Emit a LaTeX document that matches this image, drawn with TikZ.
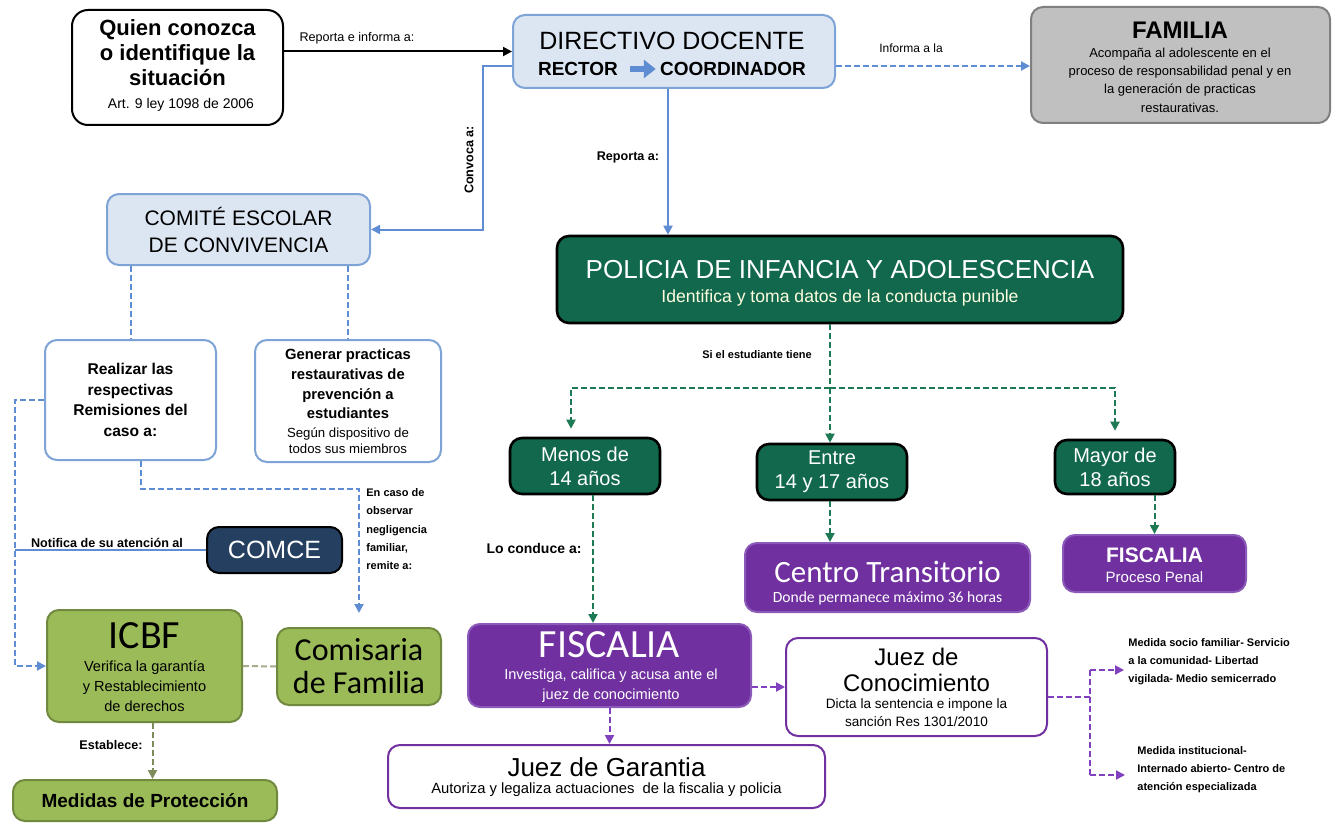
\documentclass[tikz,border=0pt]{standalone}
\usepackage{fontspec}
\setmainfont{Liberation Sans}
\newfontfamily\calib{Carlito}
\usetikzlibrary{arrows.meta, positioning, calc}

\definecolor{boxblue}{HTML}{DCE6F2}
\definecolor{borderblue}{HTML}{7EA3D6}
\definecolor{lineblue}{HTML}{5F8DD3}
\definecolor{polgreen}{HTML}{11684C}
\definecolor{dashgreen}{HTML}{1E7A55}
\definecolor{olive}{HTML}{9BBB59}
\definecolor{olivedark}{HTML}{71893F}
\definecolor{olivedash}{HTML}{7D8C5A}
\definecolor{navy}{HTML}{243F60}
\definecolor{purp}{HTML}{7030A0}
\definecolor{purpedge}{HTML}{8B5AB8}
\definecolor{purpdash}{HTML}{8040C0}
\definecolor{famgray}{HTML}{C0C0C0}
\definecolor{famedge}{HTML}{808080}

\begin{document}
\begin{tikzpicture}[x=0.5pt, y=-0.5pt,
    box/.style={draw, rounded corners=6pt, line width=1pt, inner sep=0pt},
    bluebox/.style={box, draw=borderblue, fill=boxblue},
    whitebox/.style={box, draw=borderblue, fill=white},
    darkbox/.style={box, draw=black, fill=polgreen, line width=1.3pt},
    olivebox/.style={box, draw=olivedark, fill=olive},
    purpbox/.style={box, draw=purpedge, fill=purp},
    judgebox/.style={box, draw=purp, fill=white},
    txt/.style={align=center, inner sep=0pt},
    lbl/.style={font=\fontsize{6.3}{8}\selectfont\bfseries, inner sep=1pt},
    tip/.style={-{Triangle[length=4.5pt, width=4.5pt]}},
    dsh/.style={line width=1pt, dash pattern=on 3pt off 1.5pt},
    solid line/.style={line width=1pt}
]
\useasboundingbox (0,0) rectangle (1333,824);
\fill[white] (0,0) rectangle (1333,824);

% Top row
\node[box, draw=black, fill=white, rounded corners=8pt, minimum width=105.5pt, minimum height=57.5pt] (quien) at (177.5,67.5) {};
\node[txt, font=\fontsize{11}{12.5}\selectfont\bfseries] (quient) at (177.5,53) {Quien conozca\\o identifique la\\situación};
\node[txt, font=\fontsize{7}{8}\selectfont] (quiens) at (181,105) {Art. 9 ley 1098 de 2006};

\node[bluebox, minimum width=161pt, minimum height=36.5pt] (dir) at (674,51.5) {};
\node[txt, font=\fontsize{12.5}{14}\selectfont] (dirt) at (672,41) {DIRECTIVO DOCENTE};
\node[txt, font=\fontsize{9.5}{11}\selectfont\bfseries] (rector) at (578,69) {RECTOR};
\node[txt, font=\fontsize{9.5}{11}\selectfont\bfseries] (coord) at (733,69) {COORDINADOR};
\draw[lineblue, line width=3pt, -{Triangle[length=6pt, width=9pt]}, shorten <=6pt, shorten >=2pt] (rector.east) -- (coord.west);

\node[box, draw=famedge, fill=famgray, minimum width=149.5pt, minimum height=58pt] (fam) at (1180.5,65) {};
\node[txt, font=\fontsize{12}{14}\selectfont\bfseries] (famt) at (1180,30) {FAMILIA};
\node[txt, font=\fontsize{6.5}{9.2}\selectfont] (fams) at (1180,80) {Acompaña al adolescente en el\\proceso de responsabilidad penal y en\\la generación de practicas\\restaurativas.};

% Comite branch
\node[bluebox, txt, font=\fontsize{10.5}{13.5}\selectfont, minimum width=131.5pt, minimum height=35.5pt] (comite) at (238.5,229.5) {COMITÉ ESCOLAR\\DE CONVIVENCIA};
\node[whitebox, txt, font=\fontsize{7.8}{10.2}\selectfont\bfseries, minimum width=85.5pt, minimum height=60pt] (realiz) at (130.5,400) {Realizar las\\respectivas\\Remisiones del\\caso a:};
\node[whitebox, minimum width=93pt, minimum height=61pt] (gener) at (348,401) {};
\node[txt, font=\fontsize{7.4}{9.8}\selectfont\bfseries] (generb) at (348,384) {Generar practicas\\restaurativas de\\prevención a\\estudiantes};
\node[txt, font=\fontsize{6.6}{7.8}\selectfont] (geners) at (348,441) {Según dispositivo de\\todos sus miembros};

\node[box, draw=black, fill=navy, text=white, font=\fontsize{12.5}{14}\selectfont, minimum width=67.5pt, minimum height=23pt] (comce) at (274.5,550) {COMCE};

\node[olivebox, minimum width=97.5pt, minimum height=56pt] (icbf) at (144.5,666) {};
\node[txt, font=\calib\fontsize{20}{22}\selectfont] (icbft) at (144.5,636) {ICBF};
\node[txt, font=\fontsize{7.3}{10}\selectfont] (icbfs) at (144.5,686) {Verifica la garantía\\y Restablecimiento\\de derechos};
\node[olivebox, txt, font=\calib\fontsize{16}{16.5}\selectfont, minimum width=82pt, minimum height=38.5pt] (comis) at (359,666.5) {Comisaria\\de Familia};
\node[olivebox, font=\fontsize{9.5}{11}\selectfont\bfseries, minimum width=132pt, minimum height=20.5pt] (medid) at (145,800.5) {Medidas de Protección};

% Policia branch
\node[darkbox, minimum width=283pt, minimum height=43.5pt] (poli) at (840,279.5) {};
\node[txt, text=white, font=\fontsize{13}{15}\selectfont] (polit) at (840,270) {POLICIA DE INFANCIA Y ADOLESCENCIA};
\node[txt, text=yellow!12, font=\fontsize{8.8}{10}\selectfont] (polis) at (840,298) {Identifica y toma datos de la conducta punible};

\node[darkbox, txt, text=white, font=\fontsize{10}{12}\selectfont, minimum width=75pt, minimum height=28pt] (menos) at (585,466) {Menos de\\14 años};
\node[darkbox, txt, text=white, font=\fontsize{10}{12}\selectfont, minimum width=75pt, minimum height=28pt] (entre) at (832,472) {Entre\\14 y 17 años};
\node[darkbox, txt, text=white, font=\fontsize{10}{12}\selectfont, minimum width=60pt, minimum height=27pt] (mayor) at (1115,467) {Mayor de\\18 años};

\node[purpbox, minimum width=142.5pt, minimum height=34.5pt] (centro) at (887.5,577.5) {};
\node[txt, text=white, font=\calib\fontsize{15.5}{17}\selectfont] (centrot) at (887.5,572) {Centro Transitorio};
\node[txt, text=white, font=\calib\fontsize{7.8}{9}\selectfont] (centros) at (887.5,598) {Donde permanece máximo 36 horas};

\node[purpbox, minimum width=91.5pt, minimum height=28.5pt] (fisc2) at (1154.5,563.5) {};
\node[txt, text=white, font=\fontsize{10.5}{12}\selectfont\bfseries] (fisc2t) at (1154.5,555) {FISCALIA};
\node[txt, text=white, font=\fontsize{7.5}{9}\selectfont] (fisc2s) at (1154.5,577) {Proceso Penal};

\node[purpbox, minimum width=141.5pt, minimum height=41.5pt] (fisc) at (609.5,665.5) {};
\node[txt, text=white, font=\calib\fontsize{20}{22}\selectfont] (fisct) at (609.5,645) {FISCALIA};
\node[txt, text=white, font=\fontsize{7.3}{10}\selectfont] (fiscs) at (611,686) {Investiga, califica y acusa ante el\\juez de conocimiento};

\node[judgebox, minimum width=130.5pt, minimum height=49pt] (jconoc) at (916.5,687) {};
\node[txt, font=\fontsize{12}{13}\selectfont] (jconoct) at (916.5,670) {Juez de\\Conocimiento};
\node[txt, font=\fontsize{6.8}{9}\selectfont] (jconocs) at (916.5,713) {Dicta la sentencia e impone la\\sanción Res 1301/2010};

\node[judgebox, minimum width=218.5pt, minimum height=31.5pt] (jgar) at (606.5,776.5) {};
\node[txt, font=\fontsize{13}{15}\selectfont] (jgart) at (606.5,767) {Juez de Garantia};
\node[txt, font=\fontsize{7.4}{9}\selectfont] (jgars) at (606.5,790) {Autoriza y legaliza actuaciones \ de la fiscalia y policia};

\node[lbl, align=left, anchor=west, font=\fontsize{5.5}{9}\selectfont\bfseries] (medsoc) at (1126,662) {Medida socio familiar- Servicio\\a la comunidad- Libertad\\vigilada- Medio semicerrado};
\node[lbl, align=left, anchor=west, font=\fontsize{5.5}{9}\selectfont\bfseries] (medins) at (1135,770) {Medida institucional-\\Internado abierto- Centro de\\atención especializada};

% Helper points
\coordinate (lrail) at (15,400);
\coordinate (split) at (830,388);
\coordinate (lsplit) at (571,388);
\coordinate (rsplit) at (1115,388);
\coordinate (mtop) at (1090,670);
\coordinate (mbot) at (1090,775);

% Connectors from the top row
\draw[solid line, tip] (quien.east |- dir.west) -- (dir.west);
\node[lbl, font=\fontsize{6.3}{8}\selectfont] at (357,38) {Reporta e informa a:};
\draw[solid line, lineblue, tip] ([yshift=-7.25pt]dir.west) -- ++(-29,0) |- (comite.east);
\node[lbl, rotate=90] at (469,160) {Convoca a:};
\draw[solid line, lineblue, tip] ([xshift=-3pt]dir.south) -- ([xshift=-3pt]dir.south |- poli.north);
\node[lbl] at (628,157) {Reporta a:};
\draw[dsh, lineblue, tip] ([yshift=-7.25pt]dir.east) -- ([yshift=-7.25pt]dir.east -| fam.west);
\node[lbl, font=\fontsize{6}{8}\selectfont] at (911,48) {Informa a la};

% Comite connectors
\draw[dsh, lineblue] (realiz.north |- comite.south) -- (realiz.north);
\draw[dsh, lineblue] (gener.north |- comite.south) -- (gener.north);
\draw[dsh, lineblue, tip] (realiz.west) -- (lrail) |- (icbf.west);
\draw[dsh, lineblue, tip] ([xshift=5pt]realiz.south) -- ++(0,28) -| ([yshift=7pt]comis.north);
\node[lbl, align=left, anchor=north west, font=\fontsize{5.5}{9.2}\selectfont\bfseries] at (364,486) {En caso de\\observar\\negligencia\\familiar,\\remite a:};
\draw[solid line, lineblue] (comce.west) -- (comce.west -| lrail);
\node[lbl] at (107,543) {Notifica de su atención al};
\draw[dsh, olivedash!70] (icbf.east) -- (comis.west);
\draw[dsh, olivedash, tip] ([xshift=4pt]icbf.south) -- ([xshift=4pt]icbf.south |- medid.north);
\node[lbl] at (111,745) {Establece:};

% Policia connectors
\draw[dsh, dashgreen] (poli.south -| split) -- (split);
\draw[dsh, dashgreen, tip] (split) -- (split |- entre.north);
\draw[dsh, dashgreen, tip] (split) -- (lsplit) -- ([yshift=4pt]lsplit |- menos.north);
\draw[dsh, dashgreen, tip] (split) -- (rsplit) -- ([yshift=4pt]rsplit |- mayor.north);
\node[lbl, font=\fontsize{5.5}{8}\selectfont\bfseries] at (757,355) {Si el estudiante tiene};
\draw[dsh, dashgreen, tip] ([xshift=4pt]menos.south) -- ([xshift=4pt]menos.south |- fisc.north);
\node[lbl, font=\fontsize{7}{8}\selectfont\bfseries] at (534,548) {Lo conduce a:};
\draw[dsh, dashgreen, tip] ([xshift=-1pt]entre.south) -- ([xshift=-1pt]entre.south |- centro.north);
\draw[dsh, dashgreen, tip] (fisc2.north |- mayor.south) -- (fisc2.north);

% Fiscalia connectors
\draw[dsh, purpdash, tip] (fisc.east |- jconoc.west) -- (jconoc.west);
\draw[dsh, purpdash, tip] (fisc.south) -- (fisc.south |- jgar.north);
\draw[dsh, purpdash] ([yshift=-5pt]jconoc.east) -- ([yshift=-5pt]jconoc.east -| mtop);
\draw[dsh, purpdash] (mtop) -- (mbot);
\draw[dsh, purpdash, tip] (mtop) -- ([xshift=-1pt]mtop -| medsoc.west);
\draw[dsh, purpdash, tip] (mbot) -- ([xshift=-5pt]mbot -| medins.west);

\end{tikzpicture}
\end{document}
